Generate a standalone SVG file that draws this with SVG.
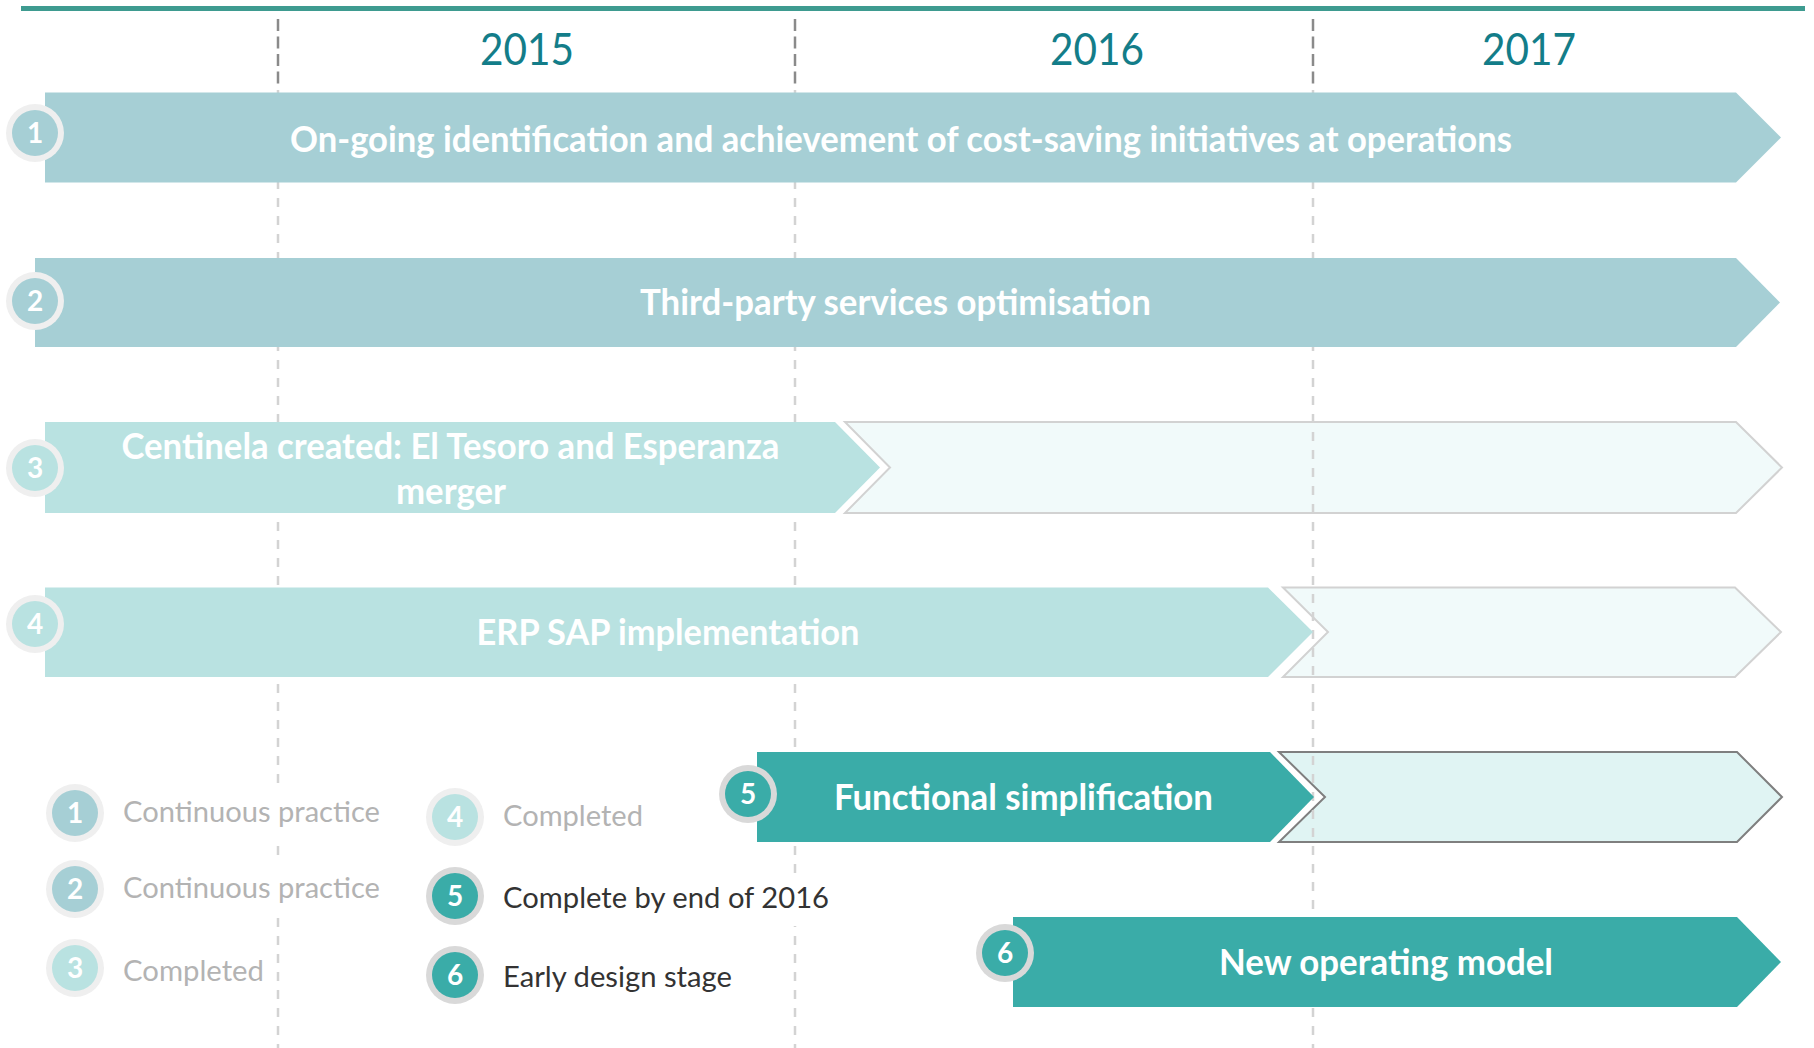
<svg xmlns="http://www.w3.org/2000/svg" width="1814" height="1048" viewBox="0 0 1814 1048">
<style>
.bar1{fill:#A6CFD5}
.bar3{fill:#B9E2E1}
.bar5{fill:#3AACA8}
.outl{fill:#F1FAFA;stroke:#D2D2D2;stroke-width:2}
.outd{fill:#E0F4F3;stroke:#7F7F7F;stroke-width:2}
.lbl{font-family:Lato,"Liberation Sans",sans-serif;font-weight:bold;font-size:36px;fill:#FFFFFF;text-anchor:middle}
.num{font-family:Lato,"Liberation Sans",sans-serif;font-weight:bold;font-size:28px;fill:#FFFFFF;text-anchor:middle}
.year{font-family:Lato,"Liberation Sans",sans-serif;font-size:45px;fill:#137D89;text-anchor:middle}
.leg{font-family:Lato,"Liberation Sans",sans-serif;font-size:28px;fill:#B3B3B3}
.legd{font-family:Lato,"Liberation Sans",sans-serif;font-size:28px;fill:#333333}
.ringl{fill:#EFEFEF}
.ringd{fill:#D9D9D9}
.bg{fill:#FFFFFF}
.gdark{stroke:#8A8A8A;stroke-width:2.5;stroke-dasharray:12 5.5;fill:none}
.glight{stroke:#D3D3D3;stroke-width:2.5;stroke-dasharray:9 9;fill:none}
</style>

<line x1="21" y1="8.5" x2="1805" y2="8.5" stroke="#3E9B90" stroke-width="5"/>

<g id="years">
<text class="year" x="527" y="65" textLength="94" lengthAdjust="spacingAndGlyphs">2015</text>
<text class="year" x="1097" y="65" textLength="94" lengthAdjust="spacingAndGlyphs">2016</text>
<text class="year" x="1529" y="65" textLength="94" lengthAdjust="spacingAndGlyphs">2017</text>
</g>

<g id="outlines">
<polygon class="outl" points="845,422 1736,422 1782,467.5 1736,513 845,513 890,467.5"/>
<polygon class="outl" points="1283,587.5 1735,587.5 1781,632 1735,677 1283,677 1328,632"/>
<polygon class="outd" points="1279,752 1737,752 1782,797 1737,842 1279,842 1325,797"/>
</g>

<g id="connectors">
<line class="gdark" x1="278" y1="19" x2="278" y2="88"/>
<line class="gdark" x1="795" y1="19" x2="795" y2="88"/>
<line class="gdark" x1="1313" y1="19" x2="1313" y2="88"/>
<line class="glight" x1="278" y1="90" x2="278" y2="1048"/>
<line class="glight" x1="795" y1="90" x2="795" y2="1048"/>
<line class="glight" x1="1313" y1="90" x2="1313" y2="1048"/>
</g>

<g id="node1">
<polygon class="bar1" points="45,92.5 1736,92.5 1781,137.5 1736,182.5 45,182.5"/>
<text class="lbl" x="901" y="152" textLength="1222" lengthAdjust="spacingAndGlyphs">On-going identification and achievement of cost-saving initiatives at operations</text>
<circle class="ringl" cx="35" cy="133" r="29"/>
<circle class="bar1" cx="35" cy="133" r="23"/>
<text class="num" x="35" y="143">1</text>
</g>

<g id="node2">
<polygon class="bar1" points="35,258 1736,258 1780,302.5 1736,347 35,347"/>
<text class="lbl" x="895.5" y="315" textLength="511" lengthAdjust="spacingAndGlyphs">Third-party services optimisation</text>
<circle class="ringl" cx="35" cy="301" r="29"/>
<circle class="bar1" cx="35" cy="301" r="23"/>
<text class="num" x="35" y="311">2</text>
</g>

<g id="node3">
<polygon class="bar3" points="45,422 835,422 880,467.5 835,513 45,513"/>
<text class="lbl" x="450.5" y="459" textLength="658" lengthAdjust="spacingAndGlyphs">Centinela created: El Tesoro and Esperanza</text>
<text class="lbl" x="451" y="504" textLength="110" lengthAdjust="spacingAndGlyphs">merger</text>
<circle class="ringl" cx="35" cy="468" r="29"/>
<circle class="bar3" cx="35" cy="468" r="23"/>
<text class="num" x="35" y="478">3</text>
</g>

<g id="node4">
<polygon class="bar3" points="45,587.5 1268,587.5 1313,632 1268,677 45,677"/>
<text class="lbl" x="668" y="645" textLength="383" lengthAdjust="spacingAndGlyphs">ERP SAP implementation</text>
<circle class="ringl" cx="35" cy="624" r="29"/>
<circle class="bar3" cx="35" cy="624" r="23"/>
<text class="num" x="35" y="634">4</text>
</g>

<g id="node5">
<polygon class="bar5" points="757,752 1270,752 1314,797 1270,842 757,842"/>
<text class="lbl" x="1023.5" y="810" textLength="379" lengthAdjust="spacingAndGlyphs">Functional simplification</text>
<circle class="ringd" cx="748" cy="794" r="29"/>
<circle class="bar5" cx="748" cy="794" r="23"/>
<text class="num" x="748" y="804">5</text>
</g>

<g id="node6">
<polygon class="bar5" points="1013,917 1737,917 1781,962 1737,1007 1013,1007"/>
<text class="lbl" x="1386" y="975" textLength="334" lengthAdjust="spacingAndGlyphs">New operating model</text>
<circle class="ringd" cx="1005" cy="953" r="29"/>
<circle class="bar5" cx="1005" cy="953" r="23"/>
<text class="num" x="1005" y="963">6</text>
</g>

<g id="legend">
<g id="legend1">
<rect class="bg" x="115" y="785" width="272" height="54"/>
<circle class="ringl" cx="75" cy="813" r="29"/>
<circle class="bar1" cx="75" cy="813" r="23"/>
<text class="num" x="75" y="823">1</text>
<text class="leg" x="123" y="822" textLength="257" lengthAdjust="spacingAndGlyphs">Continuous practice</text>
</g>
<g id="legend2">
<rect class="bg" x="115" y="863" width="272" height="52"/>
<circle class="ringl" cx="75" cy="889" r="29"/>
<circle class="bar1" cx="75" cy="889" r="23"/>
<text class="num" x="75" y="899">2</text>
<text class="leg" x="123" y="898" textLength="257" lengthAdjust="spacingAndGlyphs">Continuous practice</text>
</g>
<g id="legend3">
<circle class="ringl" cx="75" cy="968" r="29"/>
<circle class="bar3" cx="75" cy="968" r="23"/>
<text class="num" x="75" y="978">3</text>
<text class="leg" x="123" y="981" textLength="141" lengthAdjust="spacingAndGlyphs">Completed</text>
</g>
<g id="legend4">
<circle class="ringl" cx="455" cy="817" r="29"/>
<circle class="bar3" cx="455" cy="817" r="23"/>
<text class="num" x="455" y="827">4</text>
<text class="leg" x="503" y="826" textLength="140" lengthAdjust="spacingAndGlyphs">Completed</text>
</g>
<g id="legend5">
<rect class="bg" x="495" y="880" width="340" height="46"/>
<circle class="ringd" cx="455" cy="896" r="29"/>
<circle class="bar5" cx="455" cy="896" r="23"/>
<text class="num" x="455" y="906">5</text>
<text class="legd" x="503" y="908" textLength="326" lengthAdjust="spacingAndGlyphs">Complete by end of 2016</text>
</g>
<g id="legend6">
<circle class="ringd" cx="455" cy="975" r="29"/>
<circle class="bar5" cx="455" cy="975" r="23"/>
<text class="num" x="455" y="985">6</text>
<text class="legd" x="503" y="987" textLength="229" lengthAdjust="spacingAndGlyphs">Early design stage</text>
</g>
</g>
</svg>
